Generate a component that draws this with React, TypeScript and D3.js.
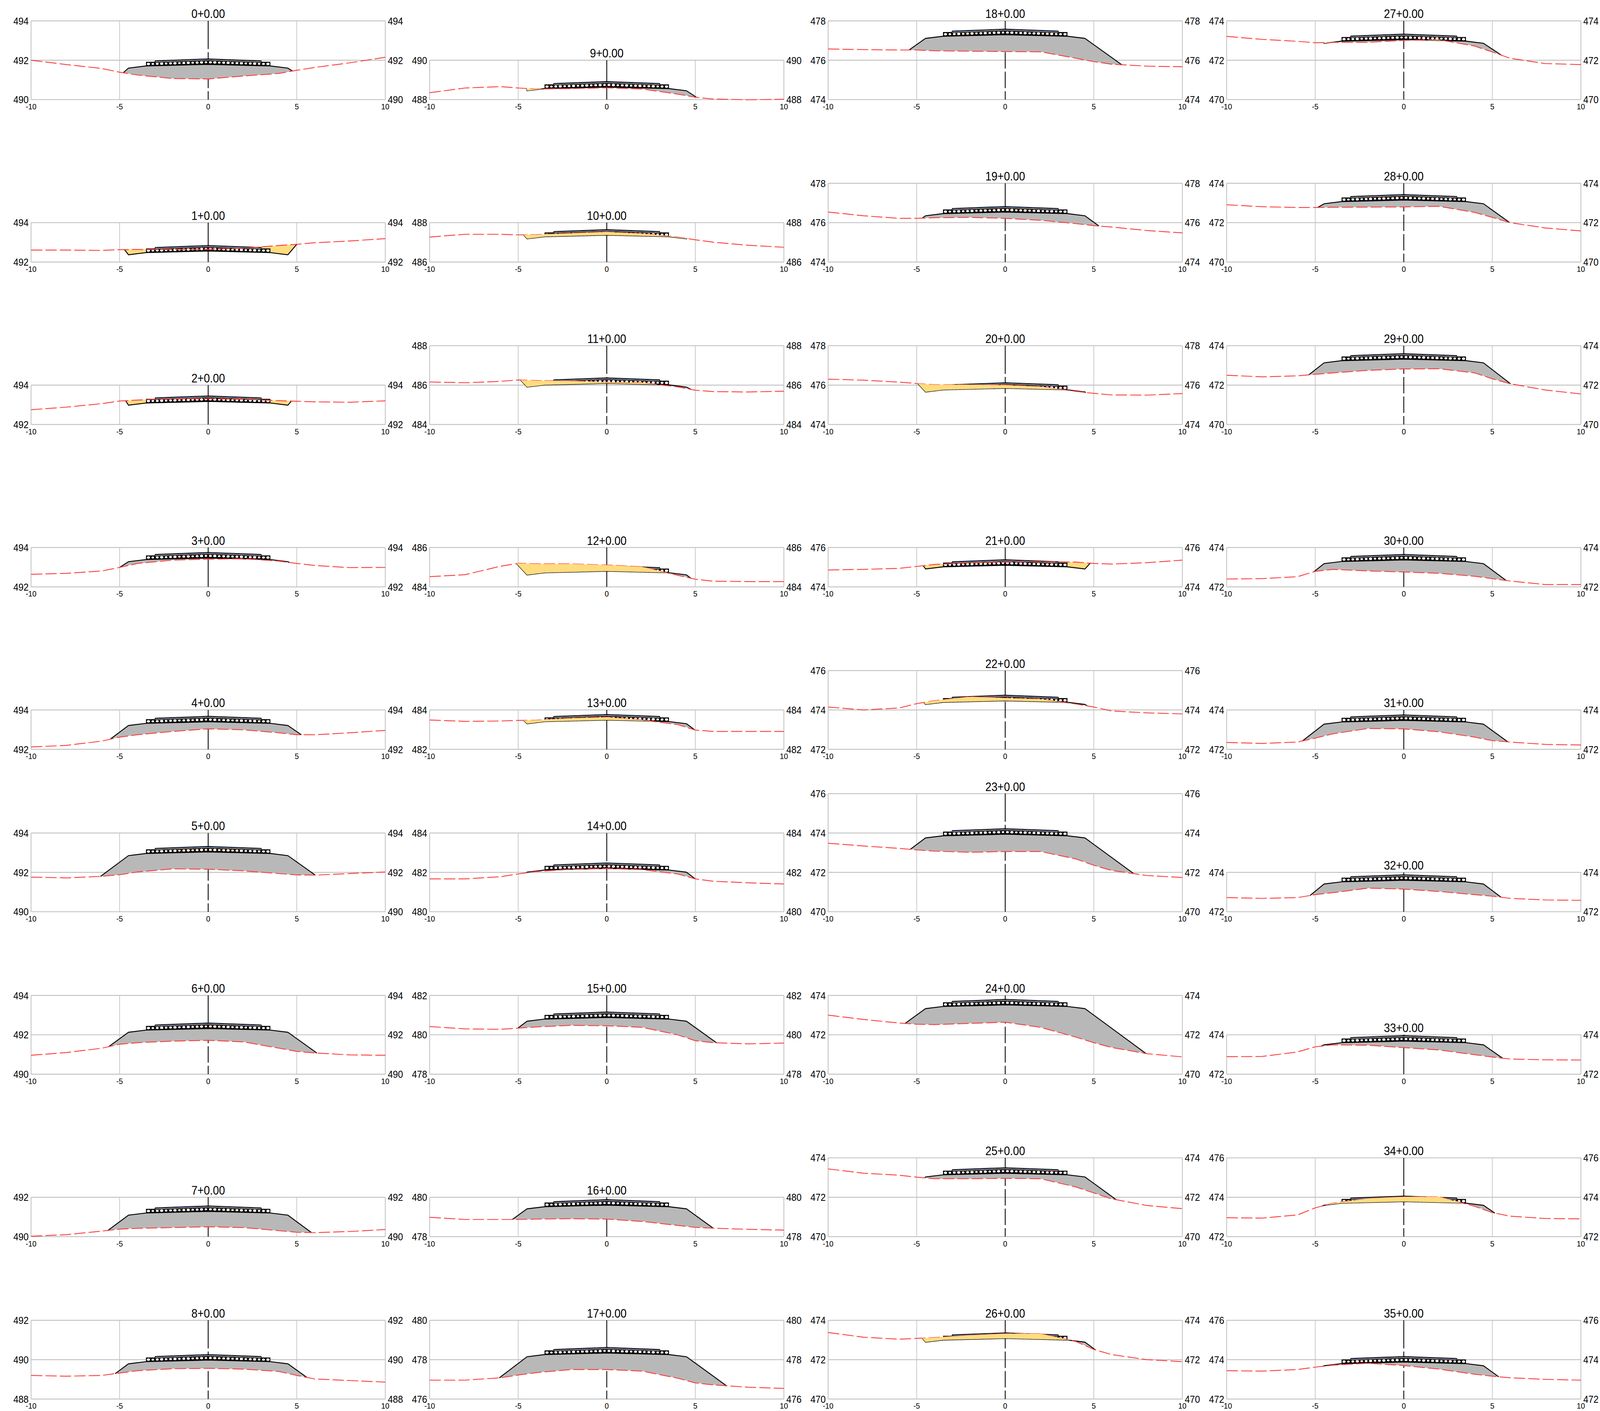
import React from 'react';
import * as d3 from 'd3';

const stationLabels = [
  '0+0.00', '1+0.00', '2+0.00', '3+0.00', '4+0.00', '5+0.00', '6+0.00', '7+0.00', '8+0.00',
  '9+0.00', '10+0.00', '11+0.00', '12+0.00', '13+0.00', '14+0.00', '15+0.00', '16+0.00', '17+0.00',
  '18+0.00', '19+0.00', '20+0.00', '21+0.00', '22+0.00', '23+0.00', '24+0.00', '25+0.00', '26+0.00',
  '27+0.00', '28+0.00', '29+0.00', '30+0.00', '31+0.00', '32+0.00', '33+0.00', '34+0.00', '35+0.00'
];

const elevMin = [
  490, 492, 492, 492, 492, 490, 490, 490, 488,
  488, 486, 484, 484, 482, 480, 478, 478, 476,
  474, 474, 474, 474, 472, 470, 470, 470, 470,
  470, 470, 470, 472, 472, 472, 472, 472, 472
];
const elevMax = [
  494, 494, 494, 494, 494, 494, 494, 492, 492,
  490, 488, 488, 486, 484, 484, 482, 480, 480,
  478, 478, 478, 476, 476, 476, 474, 474, 474,
  474, 474, 474, 474, 474, 474, 474, 476, 476
];

// elevation of the road crown at the centreline
const crowns = [
  492.07, 492.84, 493.45, 493.75, 493.68, 493.32, 492.6, 491.56, 490.26,
  488.92, 487.65, 486.37, 485.08, 483.77, 482.48, 481.16, 479.88, 478.62,
  477.58, 476.82, 476.12, 475.38, 474.75, 474.22, 473.8, 473.5, 473.36,
  473.33, 473.43, 473.6, 473.65, 473.75, 473.88, 473.96, 474.06, 474.16
];

// offsets where the side slope meets the ground
const catchLeft = [
  -4.8, -4.73, -4.66, -5, -5.53, -6.08, -5.62, -5.66, -5.25,
  -4.54, -4.7, -4.87, -5.1, -4.7, -4.54, -5.02, -5.33, -6.07,
  -5.43, -4.69, -4.94, -4.63, -4.6, -5.36, -5.65, -4.55, -4.69,
  -4.52, -4.86, -5.36, -5.08, -5.72, -5.29, -4.68, -4.61, -4.57
];
const catchRight = [
  4.76, 5, 4.7, 4.58, 5.26, 6.05, 6.14, 5.83, 5.58,
  5.07, 4.54, 4.76, 4.75, 4.97, 5, 6.2, 6.01, 6.76,
  6.58, 5.29, 4.55, 4.8, 4.63, 7.25, 7.95, 6.27, 5.1,
  5.52, 5.97, 6.03, 5.78, 5.87, 5.5, 5.58, 5.14, 5.36
];

const groundOffsets = [-10, -8, -6, -5, -4, -2, 0, 2, 4, 5, 6, 8, 10];

// existing ground, one row per station, read at groundOffsets
const groundRows = [
  [492, 491.78, 491.58, 491.39, 491.25, 491.07, 491.05, 491.2, 491.33, 491.49, 491.63, 491.87, 492.15],
  [492.61, 492.61, 492.59, 492.63, 492.64, 492.64, 492.65, 492.7, 492.84, 492.9, 492.98, 493.07, 493.19],
  [492.75, 492.88, 493.06, 493.19, 493.24, 493.31, 493.31, 493.28, 493.21, 493.18, 493.15, 493.13, 493.2],
  [492.64, 492.69, 492.81, 492.99, 493.19, 493.36, 493.41, 493.43, 493.31, 493.19, 493.09, 492.98, 492.99],
  [492.12, 492.2, 492.42, 492.62, 492.74, 492.91, 493.04, 492.99, 492.84, 492.74, 492.74, 492.84, 492.96],
  [491.76, 491.72, 491.8, 491.88, 492.02, 492.18, 492.16, 492.08, 491.94, 491.87, 491.86, 491.94, 492.02],
  [490.96, 491.1, 491.32, 491.52, 491.6, 491.68, 491.72, 491.64, 491.32, 491.16, 491.08, 490.98, 490.96],
  [490.02, 490.1, 490.28, 490.38, 490.42, 490.46, 490.5, 490.46, 490.3, 490.22, 490.2, 490.26, 490.36],
  [489.2, 489.16, 489.2, 489.32, 489.44, 489.54, 489.56, 489.52, 489.4, 489.2, 489.02, 488.94, 488.86],
  [488.35, 488.59, 488.66, 488.59, 488.54, 488.56, 488.6, 488.54, 488.28, 488.12, 488.03, 487.99, 488.02],
  [487.27, 487.41, 487.41, 487.38, 487.39, 487.46, 487.53, 487.44, 487.27, 487.13, 487.01, 486.85, 486.75],
  [486.16, 486.12, 486.19, 486.26, 486.23, 486.21, 486.14, 486.12, 485.91, 485.74, 485.67, 485.65, 485.69],
  [484.52, 484.62, 485.05, 485.2, 485.17, 485.17, 485.11, 485.02, 484.59, 484.39, 484.29, 484.27, 484.27],
  [483.49, 483.42, 483.44, 483.47, 483.48, 483.58, 483.63, 483.49, 483.26, 482.98, 482.91, 482.91, 482.91],
  [481.67, 481.67, 481.78, 481.92, 482.04, 482.16, 482.2, 482.14, 481.92, 481.67, 481.55, 481.47, 481.41],
  [480.42, 480.3, 480.28, 480.34, 480.4, 480.48, 480.46, 480.38, 480, 479.7, 479.6, 479.54, 479.58],
  [478.98, 478.87, 478.87, 478.87, 478.89, 478.91, 478.89, 478.77, 478.57, 478.47, 478.43, 478.37, 478.33],
  [476.96, 476.96, 477.08, 477.22, 477.34, 477.5, 477.5, 477.42, 477.06, 476.82, 476.72, 476.6, 476.54],
  [476.57, 476.54, 476.52, 476.52, 476.48, 476.46, 476.44, 476.43, 476.1, 475.93, 475.8, 475.7, 475.67],
  [476.54, 476.35, 476.22, 476.22, 476.25, 476.27, 476.22, 476.12, 475.95, 475.85, 475.78, 475.6, 475.48],
  [476.3, 476.25, 476.15, 476.08, 476.02, 476.02, 476, 475.92, 475.68, 475.58, 475.5, 475.49, 475.57],
  [474.86, 474.89, 474.94, 475.04, 475.14, 475.23, 475.26, 475.28, 475.26, 475.19, 475.16, 475.23, 475.36],
  [474.15, 474, 474.1, 474.32, 474.47, 474.67, 474.6, 474.55, 474.3, 474.15, 473.95, 473.85, 473.8],
  [473.48, 473.34, 473.22, 473.14, 473.08, 473.02, 473.06, 473.06, 472.68, 472.36, 472.1, 471.84, 471.74],
  [473, 472.78, 472.6, 472.54, 472.52, 472.58, 472.64, 472.38, 471.88, 471.6, 471.36, 471.04, 470.88],
  [473.44, 473.22, 473.12, 473.02, 472.94, 472.94, 472.96, 472.94, 472.52, 472.22, 471.92, 471.58, 471.42],
  [473.38, 473.14, 473.04, 473.08, 473.12, 473.24, 473.32, 473.32, 472.92, 472.52, 472.26, 472, 471.9],
  [473.21, 473.06, 472.96, 472.89, 472.91, 472.91, 473.01, 473.04, 472.72, 472.42, 472.1, 471.83, 471.78],
  [472.91, 472.81, 472.77, 472.77, 472.78, 472.79, 472.8, 472.83, 472.52, 472.27, 472, 471.73, 471.58],
  [472.5, 472.42, 472.47, 472.55, 472.62, 472.75, 472.82, 472.83, 472.62, 472.32, 472.07, 471.75, 471.55],
  [472.4, 472.42, 472.52, 472.79, 472.89, 472.81, 472.76, 472.69, 472.54, 472.42, 472.3, 472.12, 472.12],
  [472.35, 472.3, 472.37, 472.57, 472.79, 473.06, 473.04, 472.89, 472.62, 472.44, 472.37, 472.25, 472.22],
  [472.72, 472.68, 472.72, 472.87, 472.97, 473.2, 473.15, 473.03, 472.87, 472.79, 472.68, 472.6, 472.58],
  [472.89, 472.9, 473.13, 473.39, 473.49, 473.47, 473.35, 473.23, 472.99, 472.87, 472.77, 472.73, 472.72],
  [472.96, 472.94, 473.1, 473.46, 473.7, 473.94, 474.02, 474.02, 473.54, 473.22, 473.04, 472.92, 472.9],
  [473.44, 473.42, 473.5, 473.62, 473.72, 473.82, 473.7, 473.52, 473.26, 473.16, 473.08, 473, 472.96]
];

// stations where the aggregate stays visible through the cut area
const meshOverCut = [1, 2, 21];

const xTicks = [-10, -5, 0, 5, 10];

const PAGE_W = 4553;
const PAGE_H = 3612;
const PLOT_W = 1008;
const PX_PER_M = 50.4;
const colLeft = [88.4, 1222.6, 2356.5, 3490.6];
const firstBottom = 255;
const rowStep = 415.8;

const GREY = '#bfbfbf';
const FILL = '#b8b8b8';
const CUT = '#ffdc7f';
const FONT = '"Liberation Sans", Arial, sans-serif';

const Section: React.FC<{ index: number }> = ({ index }) => {
  const col = Math.floor(index / 9);
  const row = index % 9;
  const lo = elevMin[index];
  const hi = elevMax[index];
  const crown = crowns[index];
  const height = (hi - lo) * PX_PER_M;
  const bottom = firstBottom + rowStep * row;

  const x = d3.scaleLinear().domain([-10, 10]).range([0, PLOT_W]);
  const y = d3.scaleLinear().domain([lo, hi]).range([height, 0]);
  const ground = d3.scaleLinear().domain(groundOffsets).range(groundRows[index]);

  const left = catchLeft[index];
  const right = catchRight[index];
  // subgrade and side slopes, from catch point to catch point
  const designX = [left, -4.5, -3.5, 0, 3.5, 4.5, right];
  const designZ = [
    ground(left), crown - 0.47, crown - 0.36, crown - 0.28, crown - 0.36, crown - 0.47, ground(right)
  ];
  const design = d3.scaleLinear().domain(designX).range(designZ);

  const samples = [...d3.range(left, right, 0.04), right];
  const fillArea = d3.area<number>()
    .x(d => x(d))
    .y0(d => y(ground(d)))
    .y1(d => y(design(d)))
    .defined(d => design(d) >= ground(d));
  const cutArea = d3.area<number>()
    .x(d => x(d))
    .y0(d => y(design(d)))
    .y1(d => y(ground(d)))
    .defined(d => ground(d) >= design(d));

  const line = d3.line<[number, number]>().x(d => x(d[0])).y(d => y(d[1]));
  const groundPath = line(groundOffsets.map((o, i) => [o, groundRows[index][i]]));
  const subgradePath = line(designX.map((o, i) => [o, designZ[i]]));

  // asphalt layers on top of the road
  const layer = (drop: number) =>
    line([[-3, crown - 0.1 - drop], [0, crown - drop], [3, crown - 0.1 - drop]]);

  // aggregate band, black with holes cut out of it
  const bandTop = (o: number) => crown - 0.16 + 0.1 * Math.max(0, 1 - Math.abs(o) / 3);
  const bandBottom = (o: number) => crown - 0.28 - (0.08 * Math.abs(o)) / 3.5;
  const bandOutline = line([
    [-3.5, crown - 0.16], [-3, crown - 0.16], [0, bandTop(0)], [3, crown - 0.16], [3.5, crown - 0.16],
    [3.5, crown - 0.36], [0, crown - 0.28], [-3.5, crown - 0.36]
  ]) + 'Z';
  const hole = (cx: number, cy: number, rx: number, ry: number) =>
    `M${cx - rx},${cy}a${rx},${ry} 0 1,0 ${2 * rx},0a${rx},${ry} 0 1,0 ${-2 * rx},0Z`;
  const holes = d3.range(-3.375, 3.4, 0.25).map((o, i) => {
    const mid = y((bandTop(o) + bandBottom(o)) / 2);
    const big = hole(x(o), mid, [5.1, 4.2, 4.7][i % 3], [3.8, 3.2, 3.5][i % 3]);
    const gap = o + 0.125 < 3.5
      ? hole(x(o + 0.125), mid + (i % 2 ? 3.2 : -3.2), 1.3, 1)
      : '';
    return big + gap;
  }).join('');

  const road = (
    <g>
      <path d={bandOutline} fill="#fff" />
      <path d={bandOutline + holes} fill="#000" fillRule="evenodd" stroke="#000" strokeWidth={1.2} />
      <path d={layer(0.065) || ''} fill="none" stroke="#b9824a" strokeWidth={1.5} />
      <path d={layer(0.035) || ''} fill="none" stroke="#4472c4" strokeWidth={1.6} />
      <path d={layer(0) || ''} fill="none" stroke="#000" strokeWidth={2} />
      <line x1={x(-3)} x2={x(-3)} y1={y(crown - 0.1)} y2={y(crown - 0.16)} stroke="#000" strokeWidth={2} />
      <line x1={x(3)} x2={x(3)} y1={y(crown - 0.1)} y2={y(crown - 0.16)} stroke="#000" strokeWidth={2} />
    </g>
  );
  const subgrade = <path d={subgradePath || ''} fill="none" stroke="#000" strokeWidth={2.4} />;
  const cut = <path d={cutArea(samples) || ''} fill={CUT} />;
  const fill = <path d={fillArea(samples) || ''} fill={FILL} />;
  const groundLine = (
    <path d={groundPath || ''} fill="none" stroke="#ff3b3b" strokeWidth={2.2} strokeDasharray="32 9" />
  );
  const meshOnTop = meshOverCut.includes(index);

  const yTicks = d3.range(lo, hi + 1, 2);

  return (
    <g transform={`translate(${colLeft[col]},${bottom - height})`} fontFamily={FONT}>
      {xTicks.slice(1, -1).filter(t => t !== 0).map(t => (
        <line key={t} x1={x(t)} x2={x(t)} y1={0} y2={height} stroke={GREY} strokeWidth={1.8} />
      ))}
      {yTicks.map(t => (
        <line key={t} x1={0} x2={PLOT_W} y1={y(t)} y2={y(t)} stroke={GREY} strokeWidth={2.2} />
      ))}
      <line x1={0} x2={0} y1={0} y2={height} stroke={GREY} strokeWidth={2.2} />
      <line x1={PLOT_W} x2={PLOT_W} y1={0} y2={height} stroke={GREY} strokeWidth={2.2} />
      <line
        x1={x(0)} x2={x(0)} y1={0} y2={height}
        stroke="#000" strokeWidth={2.4}
        strokeDasharray={height >= 200 ? '72 8 42 8 42 8 400' : undefined}
      />

      {meshOnTop ? (
        <g>{fill}{cut}{subgrade}{road}{groundLine}</g>
      ) : (
        <g>{road}{fill}{subgrade}{groundLine}{cut}</g>
      )}

      <text x={x(0)} y={-7} textAnchor="middle" fontSize={31}>{stationLabels[index]}</text>
      {xTicks.map(t => (
        <text key={t} x={x(t)} y={height + 25} textAnchor="middle" fontSize={21}>{t}</text>
      ))}
      {yTicks.map(t => (
        <g key={t}>
          <text x={-7} y={y(t)} dy="0.36em" textAnchor="end" fontSize={26}>{t}</text>
          <text x={PLOT_W + 7} y={y(t)} dy="0.36em" textAnchor="start" fontSize={26}>{t}</text>
        </g>
      ))}
    </g>
  );
};

export default function App() {
  // fill the window exactly, the browser may hand out less width than was asked for
  return (
    <svg
      viewBox={`0 0 ${PAGE_W} ${PAGE_H}`}
      preserveAspectRatio="none"
      style={{ position: 'fixed', left: 0, top: 0, width: '100vw', height: '100vh', background: '#fff' }}
    >
      {stationLabels.map((_, i) => (
        <Section key={i} index={i} />
      ))}
    </svg>
  );
}
